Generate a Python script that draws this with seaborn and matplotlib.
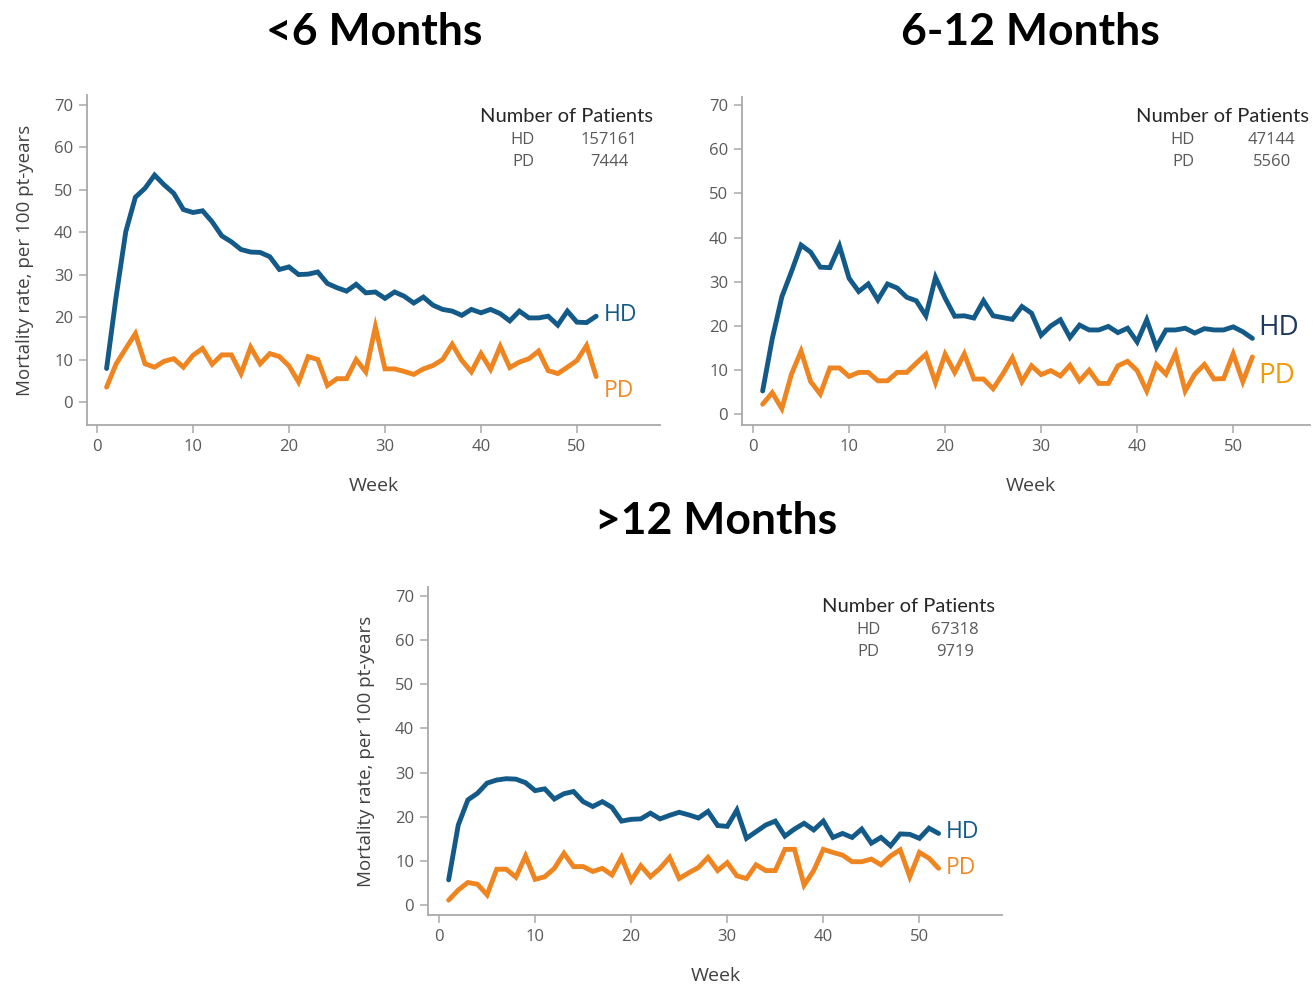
import numpy as np
import pandas as pd
import matplotlib
matplotlib.use("Agg")
import matplotlib.pyplot as plt
import seaborn as sns

# ---- data -------------------------------------------------------------
weeks = list(range(1, 53))

hd_lt6 = [8, 25, 40.2, 48.3, 50.4, 53.5, 51.2, 49.2, 45.4, 44.7,
          45.1, 42.5, 39.2, 37.8, 36.0, 35.4, 35.3, 34.3, 31.3, 31.9,
          30.1, 30.2, 30.7, 28.0, 27.0, 26.2, 27.8, 25.8, 26.0, 24.5,
          26.0, 25.0, 23.4, 24.8, 22.9, 21.9, 21.5, 20.5, 21.9, 21.1,
          21.9, 20.9, 19.2, 21.5, 19.9, 19.9, 20.3, 18.2, 21.5, 18.9,
          18.8, 20.3]
pd_lt6 = [3.6, 9.1, 12.7, 16.2, 9.1, 8.3, 9.7, 10.3, 8.3, 11.1,
          12.7, 9.0, 11.2, 11.2, 6.8, 13.0, 9.1, 11.5, 10.8, 8.6,
          4.8, 10.8, 10.1, 4.0, 5.6, 5.6, 10.1, 7.2, 17.8, 7.9,
          7.9, 7.3, 6.6, 7.9, 8.7, 10.1, 13.7, 9.9, 7.2, 11.5,
          7.8, 13.2, 8.2, 9.5, 10.3, 12.1, 7.5, 6.8, 8.3, 9.9,
          13.4, 6.1]

hd_6_12 = [5.3, 17.1, 26.6, 32.3, 38.3, 36.7, 33.3, 33.2, 38.1, 30.8,
           27.8, 29.5, 25.9, 29.5, 28.6, 26.5, 25.7, 22.3, 31.0, 26.3,
           22.2, 22.3, 21.8, 25.7, 22.3, 21.9, 21.5, 24.4, 22.9, 17.9,
           20.0, 21.4, 17.4, 20.2, 19.1, 19.1, 19.9, 18.5, 19.5, 16.4,
           21.4, 15.2, 19.1, 19.1, 19.5, 18.4, 19.4, 19.1, 19.1, 19.8,
           18.7, 17.2]
pd_6_12 = [2.3, 4.9, 1.3, 9.1, 14.3, 7.4, 4.6, 10.5, 10.5, 8.6,
           9.5, 9.5, 7.6, 7.6, 9.5, 9.5, 11.6, 13.6, 7.2, 13.6,
           9.5, 13.7, 8.0, 8.0, 5.8, 9.1, 12.8, 7.4, 11.0, 9.0,
           9.9, 8.7, 11.1, 7.6, 10.0, 7.0, 7.0, 11.0, 12.0, 9.9,
           5.3, 11.3, 9.1, 13.8, 5.3, 9.1, 11.3, 8.0, 8.1, 13.7,
           7.4, 13.0]

hd_gt12 = [5.7, 18.1, 23.8, 25.3, 27.6, 28.3, 28.6, 28.5, 27.7, 25.9,
           26.3, 24.0, 25.2, 25.7, 23.4, 22.3, 23.4, 22.1, 19.0, 19.4,
           19.5, 20.8, 19.5, 20.3, 21.0, 20.4, 19.7, 21.2, 18.0, 17.8,
           21.5, 15.1, 16.6, 18.1, 19.0, 15.6, 17.2, 18.5, 17.0, 19.0,
           15.3, 16.2, 15.3, 17.2, 14.0, 15.3, 13.4, 16.1, 16.0, 15.1,
           17.4, 16.2]
pd_gt12 = [1.1, 3.4, 5.1, 4.7, 2.3, 8.1, 8.1, 6.3, 11.1, 5.8,
           6.4, 8.3, 11.7, 8.7, 8.7, 7.6, 8.3, 6.8, 10.8, 5.5,
           8.9, 6.4, 8.3, 10.8, 6.0, 7.3, 8.5, 10.8, 7.8, 9.6,
           6.6, 6.0, 9.1, 7.8, 7.8, 12.6, 12.6, 4.5, 7.8, 12.6,
           11.9, 11.3, 9.8, 9.8, 10.4, 9.1, 11.1, 12.5, 6.4, 11.9,
           10.6, 8.3]

panel_titles = ["<6 Months", "6-12 Months", ">12 Months"]
patients_hd = ["157161", "47144", "67318"]
patients_pd = ["7444", "5560", "9719"]
groups = ["HD", "PD"]
x_ticks = [0, 10, 20, 30, 40, 50]
y_ticks = [0, 10, 20, 30, 40, 50, 60, 70]

# ---- styling ----------------------------------------------------------
sns.set_style("ticks")
plt.rcParams["font.family"] = ["Open Sans", "DejaVu Sans"]

W, H = 1313, 985
fig = plt.figure(figsize=(W / 100, H / 100), dpi=100)
fig.patch.set_facecolor("white")

HD_COLOR = "#145a89"
PD_COLOR = "#ef8520"
SPINE = "#a9a9a9"
TICKTXT = "#595959"


def px_rect(left, top, right, bottom):
    return [left / W, 1 - bottom / H, (right - left) / W, (bottom - top) / H]


def ftext(x, y, s, **kw):
    fig.text(x / W, 1 - y / H, s, **kw)


panels = [
    dict(hd=hd_lt6, pd=pd_lt6, rect=(87, 95, 660, 425), xlim=(-1.04, 58.65), ylim=(-5.3, 72.35),
         title_xy=(374, 32), ylabel=True, week_xy=(374, 486),
         box=(566, 116, 523, 609), lab_hd=(604, 315, HD_COLOR, 16.5), lab_pd=(604, 391, "#ef8a2a", 16.5)),
    dict(hd=hd_6_12, pd=pd_6_12, rect=(742, 97, 1310, 425), xlim=(-1.15, 58.0), ylim=(-2.4, 71.8),
         title_xy=(1030, 32), ylabel=False, week_xy=(1031, 486),
         box=(1222, 116, 1183, 1272), lab_hd=(1258, 328, "#21385f", 20), lab_pd=(1258, 376, "#f09a0a", 20)),
    dict(hd=hd_gt12, pd=pd_gt12, rect=(428, 587, 1002, 915), xlim=(-1.15, 58.6), ylim=(-2.26, 72.0),
         title_xy=(716, 521), ylabel=True, week_xy=(716, 976),
         box=(908, 606, 868, 955), lab_hd=(946, 832, HD_COLOR, 16.5), lab_pd=(946, 868, "#ef8a2a", 16.5)),
]

for i, p in enumerate(panels):
    ax = fig.add_axes(px_rect(*p["rect"]))
    df = pd.DataFrame({
        "Week": weeks * 2,
        "Rate": p["hd"] + p["pd"],
        "Group": ["HD"] * len(weeks) + ["PD"] * len(weeks),
    })
    sns.lineplot(data=df, x="Week", y="Rate", hue="Group", hue_order=groups,
                 palette={"HD": HD_COLOR, "PD": PD_COLOR}, linewidth=3.5,
                 legend=False, ax=ax, solid_joinstyle="miter")

    ax.set_xlim(*p["xlim"])
    ax.set_ylim(*p["ylim"])
    ax.set_xticks(x_ticks)
    ax.set_yticks(y_ticks)
    sns.despine(ax=ax)
    for side in ("left", "bottom"):
        ax.spines[side].set_color(SPINE)
        ax.spines[side].set_linewidth(1.3)
    ax.tick_params(axis="both", colors=SPINE, labelcolor=TICKTXT, labelsize=12,
                   length=6, width=1.1, pad=4)
    ax.set_xlabel("")
    ax.set_ylabel("")
    if p["ylabel"]:
        ax.set_ylabel("Mortality rate, per 100 pt-years", fontsize=13.5, color="#404040", labelpad=14)

    # panel heading and x-axis label
    ftext(*p["title_xy"], panel_titles[i], ha="center", va="center", fontsize=32,
          fontweight="bold", family=["Lato", "DejaVu Sans"], color="black")
    ftext(*p["week_xy"], "Week", ha="center", va="center", fontsize=14, color="#404040")

    # patient counts
    bx, by, gx, nx = p["box"]
    ftext(bx, by, "Number of Patients", ha="center", va="center", fontsize=14.5,
          family=["Lato", "DejaVu Sans"], color="#262626")
    ftext(gx, by + 24, "HD", ha="center", va="center", fontsize=12, color=TICKTXT)
    ftext(gx, by + 46, "PD", ha="center", va="center", fontsize=12, color=TICKTXT)
    ftext(nx, by + 24, patients_hd[i], ha="center", va="center", fontsize=12, color=TICKTXT)
    ftext(nx, by + 46, patients_pd[i], ha="center", va="center", fontsize=12, color=TICKTXT)

    # series labels at the line ends
    x, y, c, s = p["lab_hd"]
    ftext(x, y, "HD", ha="left", va="center", fontsize=s, color=c)
    x, y, c, s = p["lab_pd"]
    ftext(x, y, "PD", ha="left", va="center", fontsize=s, color=c)

fig.savefig("out.png", dpi=100, facecolor="white")
